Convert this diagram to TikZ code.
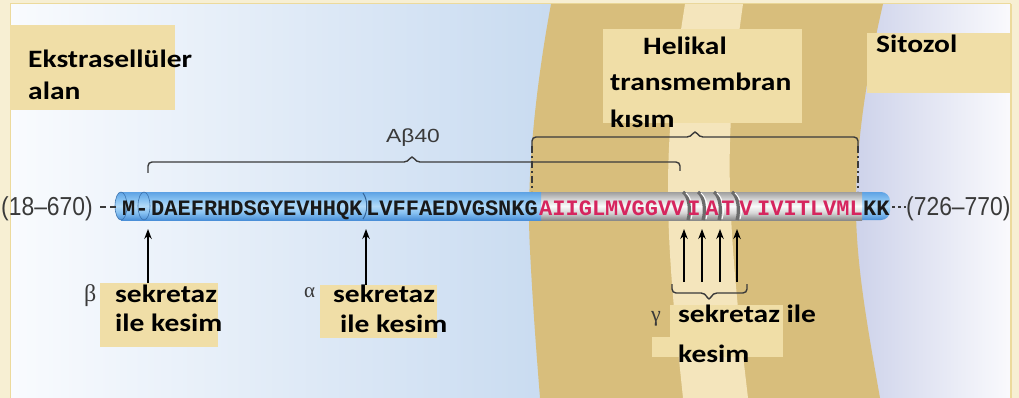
\documentclass[tikz,border=0pt]{standalone}
\usepackage{fontspec}
\usetikzlibrary{arrows.meta}
\newfontfamily\lblfont{Carlito}[FakeStretch=1.18]
\newfontfamily\seqfont{Liberation Mono}
\newfontfamily\endfont{Liberation Sans}[FakeStretch=0.88]
\newfontfamily\abfont{Liberation Sans}[FakeStretch=1.2]
\newfontfamily\grkfont{Liberation Serif}

\definecolor{frameCream}{HTML}{F7EFD3}
\definecolor{frameLine}{HTML}{ECDA9C}
\definecolor{extraL}{HTML}{F9FBFE}
\definecolor{extraR}{HTML}{C4D8EF}
\definecolor{cytoL}{HTML}{C6CCE7}
\definecolor{cytoR}{HTML}{FAFAFD}
\definecolor{membrane}{HTML}{D8BE7C}
\definecolor{stripe}{HTML}{F4E5BC}
\definecolor{boxYellow}{HTML}{F0DEA7}
\definecolor{rodBlueEdgeA}{HTML}{4A8FD8}
\definecolor{rodBlueEdgeB}{HTML}{5DA2E4}
\definecolor{rodBlueSoft}{HTML}{86C1F1}
\definecolor{rodBlueMid}{HTML}{B2DAF8}
\definecolor{rodGrayEdgeA}{HTML}{8A8A8A}
\definecolor{rodGrayEdgeB}{HTML}{9E9E9E}
\definecolor{rodGraySoft}{HTML}{D6D6D6}
\definecolor{rodGrayMid}{HTML}{FAFAFA}
\definecolor{aaRed}{HTML}{D6255E}
\definecolor{braceGray}{HTML}{3A3A3A}
\definecolor{txtGray}{HTML}{3A3A3A}

% cylinder look for the peptide rod (path spans 25bp..75bp)
\pgfdeclareverticalshading{rodblue}{100bp}{%
  color(0bp)=(rodBlueEdgeA); color(25bp)=(rodBlueEdgeA); color(38bp)=(rodBlueSoft);
  color(50bp)=(rodBlueMid); color(62bp)=(rodBlueSoft); color(75bp)=(rodBlueEdgeB);
  color(100bp)=(rodBlueEdgeB)}
\pgfdeclareverticalshading{rodgray}{100bp}{%
  color(0bp)=(rodGrayEdgeA); color(25bp)=(rodGrayEdgeA); color(38bp)=(rodGraySoft);
  color(50bp)=(rodGrayMid); color(62bp)=(rodGraySoft); color(75bp)=(rodGrayEdgeB);
  color(100bp)=(rodGrayEdgeB)}

\begin{document}
\begin{tikzpicture}[x=1pt,y=-1pt,
  lbl/.style={font=\lblfont\bfseries\fontsize{25}{30}\selectfont, text=black, anchor=base west, inner sep=0pt},
  greek/.style={font=\grkfont\fontsize{22}{22}\selectfont, text=txtGray, anchor=base west, inner sep=0pt},
  seq/.style={font=\seqfont\bfseries\fontsize{22}{22}\selectfont, text=black!90, anchor=base west, inner sep=0pt},
  seqred/.style={seq, text=aaRed},
  endlbl/.style={font=\endfont\fontsize{26}{26}\selectfont, text=txtGray, inner sep=0pt},
  lblbox/.style={fill=boxYellow, draw=none, inner sep=0pt, anchor=north west},
  blueRod/.style={shading=rodblue},
  grayRod/.style={shading=rodgray},
  brace/.style={draw=braceGray, line width=1.4pt, rounded corners=4pt},
  dashdrop/.style={draw=braceGray, line width=1.4pt, dash pattern=on 7pt off 3pt on 2pt off 3pt},
  twist/.style={draw=black!58, line width=3.2pt},
  twistlight/.style={draw=white, line width=1pt},
  cutarrow/.style={-{Stealth[length=10pt,width=7.5pt]}, line width=1.5pt, draw=black},
  enddash/.style={draw=txtGray, line width=2pt}
]
\useasboundingbox (0,0) rectangle (1019,398);

% ---- background: frame, extracellular side, cytosol side ----
\fill[frameCream] (0,0) rectangle (1019,398);
\shade[left color=extraL, right color=extraR] (10,4) rectangle (600,398);
\shade[left color=cytoL, right color=cytoR] (830,4) rectangle (1011,398);
\draw[frameLine, line width=1.2pt] (10.5,4) -- (10.5,398);
\draw[frameLine, line width=1.2pt] (1011,4) -- (1011,398);
\draw[frameLine, line width=1pt] (10,4) -- (1011,4);

% ---- lipid bilayer with its lighter core ----
\fill[membrane] (551,4) .. controls (535,90) and (526,180) .. (530,250)
  .. controls (533,310) and (537,360) .. (540,398) -- (880,398)
  .. controls (868,330) and (855,260) .. (856,200)
  .. controls (857,130) and (870,60) .. (883,4) -- cycle;
\fill[stripe] (685,4) .. controls (676,60) and (668,120) .. (668,190)
  .. controls (668,260) and (676,330) .. (683,398) -- (748,398)
  .. controls (740,330) and (732,260) .. (730,190)
  .. controls (728,120) and (735,60) .. (743,4) -- cycle;

% ---- label boxes ----
\node[lblbox, minimum width=165pt, minimum height=85pt] (bxEks) at (10,25) {};
\node[lblbox, minimum width=199pt, minimum height=94pt] (bxHel) at (603,29) {};
\node[lblbox, minimum width=143pt, minimum height=60pt] (bxSit) at (867,33) {};
\node[lblbox, minimum width=118pt, minimum height=64pt] (bxBeta) at (100,283) {};
\node[lblbox, minimum width=117pt, minimum height=53pt] (bxAlpha) at (320,285) {};
\node[lblbox, minimum width=113pt, minimum height=52pt] (bxGamma) at (670,305) {};
\node[lblbox, minimum width=19pt, minimum height=20pt] (bxGammaTab) at (652,337) {};

% ---- region labels ----
\node[lbl] (tEksA) at (28,68) {Ekstrasellüler};
\node[lbl] (tEksB) at (28,100) {alan};
\node[lbl] (tHelA) at (643,55) {Helikal};
\node[lbl] (tHelB) at (610,91) {transmembran};
\node[lbl] (tHelC) at (610,128) {kısım};
\node[lbl] (tSit) at (876,53) {Sitozol};

% ---- cleavage labels ----
\node[greek, font=\grkfont\fontsize{24}{24}\selectfont] (gBeta) at (84,301) {β};
\node[lbl] (tBetaA) at (115,302) {sekretaz};
\node[lbl] (tBetaB) at (115,331) {ile kesim};
\node[greek, font=\grkfont\fontsize{21}{21}\selectfont] (gAlpha) at (304,297) {α};
\node[lbl] (tAlphaA) at (333,302) {sekretaz};
\node[lbl] (tAlphaB) at (340,332) {ile kesim};
\node[greek] (gGamma) at (651,321) {γ};
\node[lbl] (tGamA) at (678,322) {sekretaz ile};
\node[lbl] (tGamB) at (678,362) {kesim};

% ---- braces ----
\draw[brace] (148,173) -- (148,162) -- (408,162) -- (412,155) -- (416,162) -- (680,162) -- (680,171);
\node[font=\abfont\fontsize{19}{19}\selectfont, text=txtGray, anchor=base west, inner sep=0pt] (tAb) at (386,143) {Aβ40};
\draw[brace] (532,147) -- (532,137) -- (691,137) -- (695,130) -- (699,137) -- (858,137) -- (858,147);
\draw[dashdrop] (532,146) -- (532,191);
\draw[dashdrop] (858,146) -- (858,191);
\draw[brace] (672,284) -- (672,293) -- (705,293) -- (709,301) -- (713,293) -- (747,293) -- (747,284);

% ---- peptide rod ----
\shade[blueRod, rounded corners=9pt] (852,192) rectangle (890,220);
\shade[grayRod] (541,192) rectangle (862,220);
\shade[blueRod] (121,192) rectangle (144,220);
\shade[blueRod] (121,206) ellipse [x radius=6, y radius=14];
\shade[blueRod] (144,192) rectangle (541,220);
\shade[blueRod] (144,206) ellipse [x radius=6, y radius=14];
\draw[rodBlueEdgeA!80!black, line width=0.6pt] (121,206) ellipse [x radius=6, y radius=14];
\draw[rodBlueEdgeA!80!black, line width=0.6pt] (144,206) ellipse [x radius=6, y radius=14];
\draw[rodBlueEdgeA!70!black, line width=1pt] (363,193) .. controls (368,200) and (368,212) .. (363,219);
\foreach \tx in {687,702,718,736}{
  \draw[twist] (\tx-4,192) .. controls (\tx+2,196) and (\tx+4,210) .. (\tx+1,220);
  \draw[twistlight] (\tx-1,193) .. controls (\tx+5,198) and (\tx+7,210) .. (\tx+4,219);
}

% ---- sequence ----
\node[seq] (sM) at (122,215) {M-};
\node[seq] (sA) at (151,215) {DAEFRHDSGYEVHHQK};
\node[seq] (sB) at (366,215) {LVFFAEDVGSNKG};
\node[seqred] (sC) at (539,215) {AIIGLMVGGVV};
\node[seqred, anchor=base] (sI) at (694,215) {I};
\node[seqred, anchor=base] (sA2) at (712,215) {A};
\node[seqred, anchor=base] (sT) at (728,215) {T};
\node[seqred, anchor=base] (sV) at (746,215) {V};
\node[seqred] (sE) at (757,215) {IVITLVML};
\node[seq] (sF) at (863,215) {KK};

% ---- chain continuation ----
\node[endlbl, anchor=base east] (tLeft) at (93,215) {(18–670)};
\node[endlbl, anchor=base west] (tRight) at (906,215) {(726–770)};
\draw[enddash, dash pattern=on 6pt off 4pt] (tLeft.east |- 0,207) ++(7,0) -- (116,207);
\draw[enddash, dash pattern=on 3pt off 3pt] (892,207) -- (tRight.west |- 0,207);

% ---- cleavage sites ----
\coordinate (cutBeta) at (148,229);
\coordinate (cutAlpha) at (366,229);
\draw[cutarrow] (bxBeta.north -| cutBeta) -- (cutBeta);
\draw[cutarrow] (bxAlpha.north -| cutAlpha) -- (cutAlpha);
\foreach \gx [count=\gi] in {684,702,720,737}{
  \coordinate (g\gi s) at (\gx,282);
  \coordinate (g\gi t) at (\gx,229);
  \draw[cutarrow] (g\gi s) -- (g\gi t);
}
\end{tikzpicture}
\end{document}
